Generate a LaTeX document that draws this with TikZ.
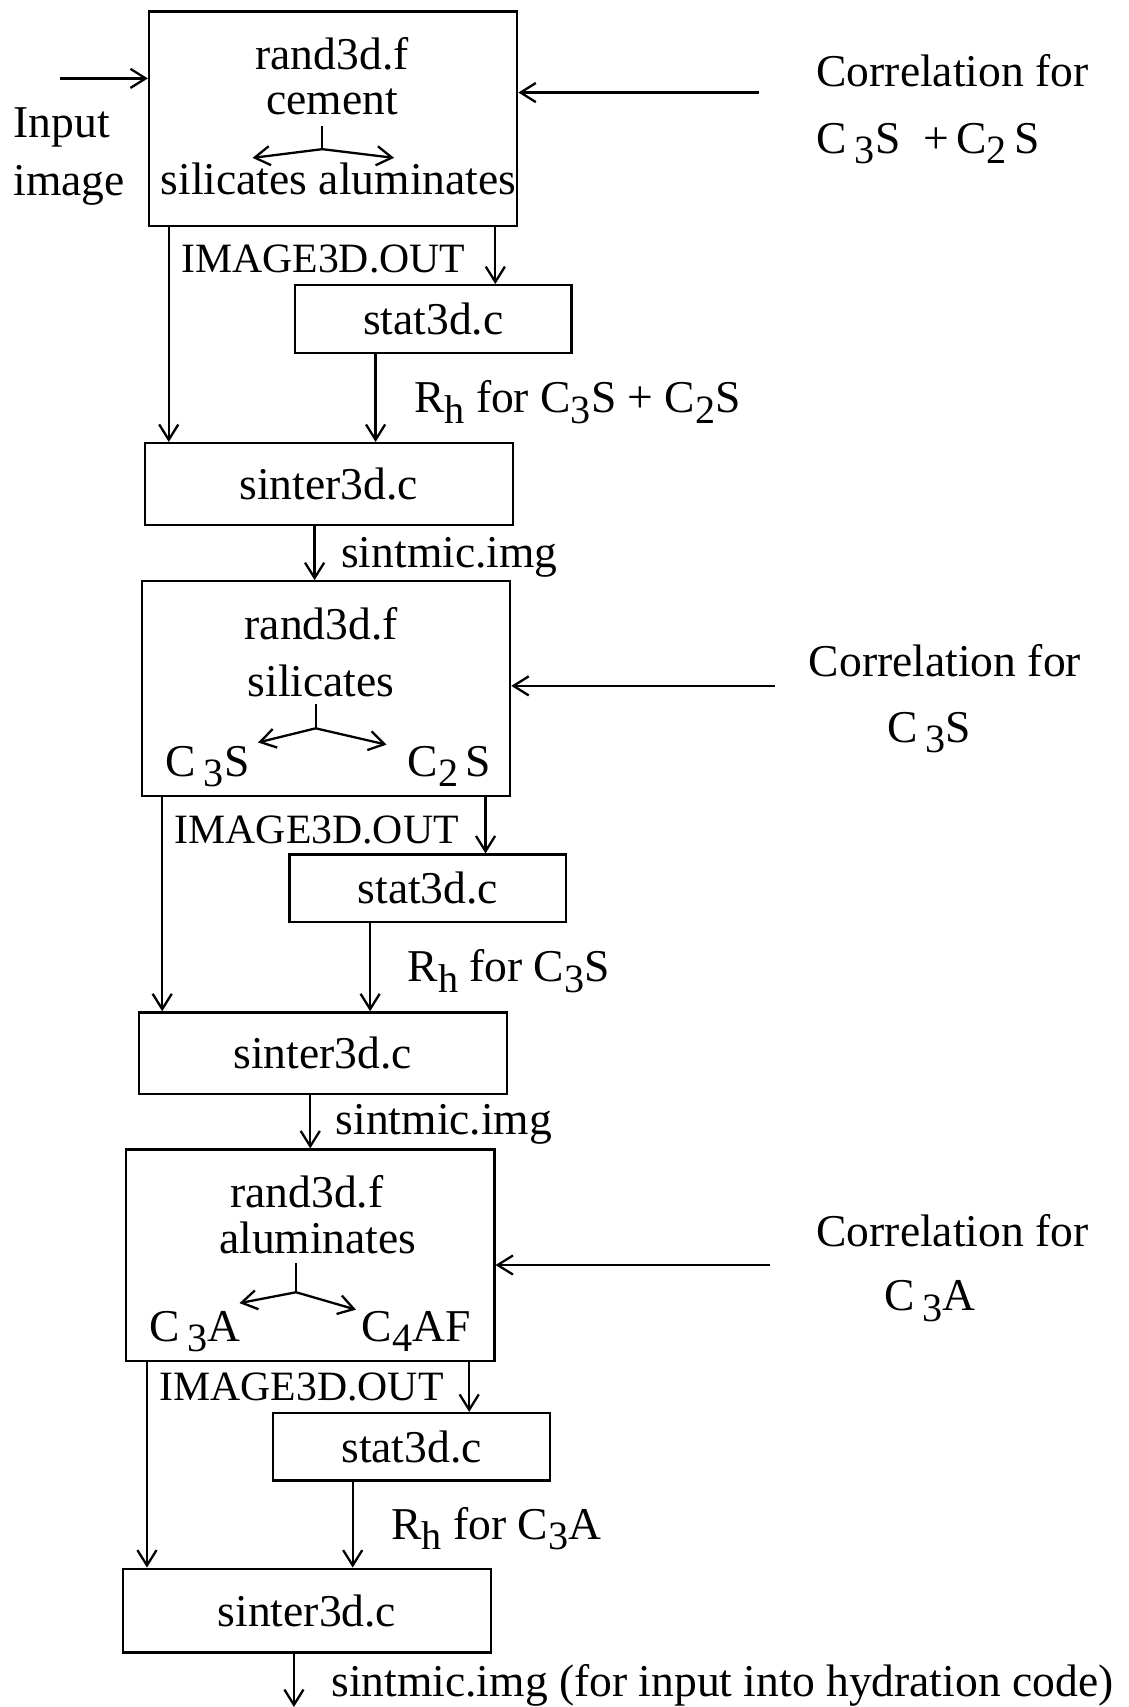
\documentclass[tikz,border=0pt]{standalone}
\usepackage{fontspec}
\setmainfont{Liberation Serif}
\usetikzlibrary{arrows.meta}
\newcommand{\lo}[1]{\raisebox{-0.5ex}{\fontsize{10.5}{12}\selectfont #1}}

\begin{document}
\begin{tikzpicture}[x=0.01cm, y=-0.01cm, font=\fontsize{11.9}{14}\selectfont,
    box/.style={draw, line width=0.6pt, inner sep=0pt},
    randbox/.style={box, minimum width=3.38cm, minimum height=1.97cm},
    statbox/.style={box, minimum width=2.54cm, minimum height=0.62cm},
    sintbox/.style={box, minimum width=3.38cm, minimum height=0.75cm},
    outlbl/.style={font=\fontsize{10.9}{13}\selectfont},
    ln/.style={line width=0.6pt},
    arr/.style={line width=0.6pt, -{Straight Barb[length=4pt, width=5pt]}}]
  \useasboundingbox (0,0) rectangle (1037,1568);

  % first pass: cement
  \node[randbox] (r1) at (306,109) {};
  \node (n1) at (305,49) {rand3d.f};
  \node (c1) at (305,94) {cement};
  \node (sa1) at (311,164) {silicates aluminates};
  \coordinate (g1) at (296,116);
  \coordinate (f1) at (296,137);
  \coordinate (p1) at (232,145);
  \coordinate (q1) at (362,145);
  \draw[ln] (g1) -- (f1);
  \draw[arr] (f1) -- (p1);
  \draw[arr] (f1) -- (q1);
  \node[anchor=west] (inp) at (0,117) {Input};
  \node[anchor=west] (img) at (0,170) {image};
  \coordinate (in) at (55,72);
  \draw[arr] (in) -- (in -| r1.west);
  \node (k1t) at (875,65) {Correlation for};
  \node[anchor=base west] (k1s) at (738,141) {C\,\lo{3}S \ +\,C\lo{2}\,S};
  \coordinate (k1) at (697,85);
  \draw[arr] (k1) -- (k1 -| r1.east);
  \node[outlbl] (o1) at (297,238) {IMAGE3D.OUT};
  \node[statbox] (t1) at (398,293) {stat3d.c};
  \node[sintbox] (s1) at (302,444.5) {sinter3d.c};
  \node[anchor=base west] (h1) at (368,379) {R\lo{h} for C\lo{3}S + C\lo{2}S};
  \coordinate (a1) at (155,0);
  \coordinate (b1) at (455,0);
  \coordinate (m1) at (345,0);
  \coordinate (d1) at (289,0);
  \draw[arr] (r1.south -| a1) -- (s1.north -| a1);
  \draw[arr] (r1.south -| b1) -- (t1.north -| b1);
  \draw[arr] (t1.south -| m1) -- (s1.north -| m1);
  \node[anchor=west] (im1) at (301,512) {sintmic.img};

  % second pass: silicates
  \node[randbox] (r2) at (299.5,632.5) {};
  \draw[arr] (s1.south -| d1) -- (r2.north -| d1);
  \node (n2) at (295,573) {rand3d.f};
  \node (c2) at (295,625) {silicates};
  \node[anchor=base west] (x2) at (140,713) {C\,\lo{3}S};
  \node[anchor=base west] (y2) at (362,713) {C\lo{2}\,S};
  \coordinate (g2) at (290,647);
  \coordinate (f2) at (290,669);
  \coordinate (p2) at (237,682);
  \coordinate (q2) at (355,684);
  \draw[ln] (g2) -- (f2);
  \draw[arr] (f2) -- (p2);
  \draw[arr] (f2) -- (q2);
  \node (k2t) at (868,607) {Correlation for};
  \node[anchor=base west] (k2s) at (803,682) {C\,\lo{3}S};
  \coordinate (k2) at (712,630);
  \draw[arr] (k2) -- (k2 -| r2.east);
  \node[outlbl] (o2) at (291,762) {IMAGE3D.OUT};
  \node[statbox] (t2) at (393,816) {stat3d.c};
  \node[sintbox] (s2) at (296.5,967.5) {sinter3d.c};
  \node[anchor=base west] (h2) at (362,902) {R\lo{h} for C\lo{3}S};
  \coordinate (a2) at (149,0);
  \coordinate (b2) at (446,0);
  \coordinate (m2) at (340,0);
  \coordinate (d2) at (285,0);
  \draw[arr] (r2.south -| a2) -- (s2.north -| a2);
  \draw[arr] (r2.south -| b2) -- (t2.north -| b2);
  \draw[arr] (t2.south -| m2) -- (s2.north -| m2);
  \node[anchor=west] (im2) at (296,1033) {sintmic.img};

  % third pass: aluminates
  \node[randbox, minimum height=1.94cm] (r3) at (285,1153) {};
  \draw[arr] (s2.south -| d2) -- (r3.north -| d2);
  \node (n3) at (282,1095) {rand3d.f};
  \node (c3) at (292,1137) {aluminates};
  \node[anchor=base west] (x3) at (125,1232) {C\,\lo{3}A};
  \node[anchor=base west] (y3) at (320,1232) {C\lo{4}AF};
  \coordinate (g3) at (272,1160);
  \coordinate (f3) at (272,1187);
  \coordinate (p3) at (220,1197);
  \coordinate (q3) at (327,1203);
  \draw[ln] (g3) -- (f3);
  \draw[arr] (f3) -- (p3);
  \draw[arr] (f3) -- (q3);
  \node (k3t) at (875,1130) {Correlation for};
  \node[anchor=base west] (k3s) at (800,1204) {C\,\lo{3}A};
  \coordinate (k3) at (707,1162);
  \draw[arr] (k3) -- (k3 -| r3.east);
  \node[outlbl] (o3) at (277,1274) {IMAGE3D.OUT};
  \node[statbox] (t3) at (378,1329) {stat3d.c};
  \node[sintbox, minimum height=0.77cm] (s3) at (282,1479.5) {sinter3d.c};
  \node[anchor=base west] (h3) at (347,1414) {R\lo{h} for C\lo{3}A};
  \coordinate (a3) at (135,0);
  \coordinate (b3) at (431,0);
  \coordinate (m3) at (324,0);
  \coordinate (end) at (270,1568);
  \draw[arr] (r3.south -| a3) -- (s3.north -| a3);
  \draw[arr] (r3.south -| b3) -- (t3.north -| b3);
  \draw[arr] (t3.south -| m3) -- (s3.north -| m3);
  \draw[arr] (s3.south -| end) -- (end);
  \node[anchor=west] (im3) at (292,1548) {sintmic.img (for input into hydration code)};
\end{tikzpicture}
\end{document}
